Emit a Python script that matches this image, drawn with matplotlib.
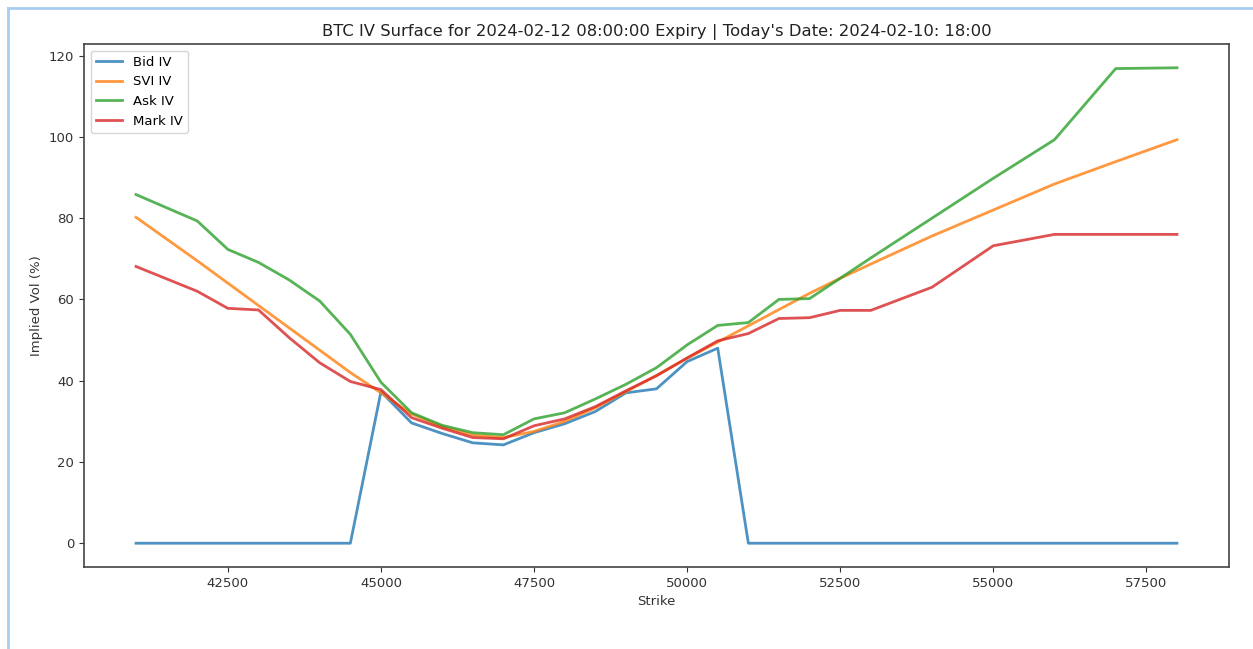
import matplotlib
matplotlib.use("Agg")
import matplotlib.pyplot as plt
from matplotlib.lines import Line2D

strikes = [41000, 42000, 42500, 43000, 43500, 44000, 44500, 45000, 45500, 46000,
           46500, 47000, 47500, 48000, 48500, 49000, 49500, 50000, 50500, 51000,
           51500, 52000, 52500, 53000, 54000, 55000, 56000, 57000, 58000]

bid_iv = [0, 0, 0, 0, 0, 0, 0, 37.3, 29.6, 27.0,
          24.7, 24.2, 27.2, 29.4, 32.4, 37.0, 38.0, 44.7, 48.0, 0,
          0, 0, 0, 0, 0, 0, 0, 0, 0]

svi_iv = [80.2, 69.5, 64.0, 58.5, 53.0, 47.5, 42.0, 37.0, 31.8, 28.7,
          26.6, 26.0, 27.5, 30.0, 33.3, 37.3, 41.3, 45.5, 49.5, 53.5,
          57.5, 61.5, 65.2, 68.7, 75.6, 82.0, 88.4, 93.9, 99.3]

ask_iv = [85.8, 79.3, 72.3, 69.1, 64.8, 59.6, 51.4, 39.6, 32.1, 29.0,
          27.2, 26.7, 30.6, 32.1, 35.5, 39.1, 43.2, 48.8, 53.6, 54.3,
          60.0, 60.2, 65.2, 70.2, 80.0, 89.8, 99.3, 116.8, 117.0]

mark_iv = [68.1, 62.0, 57.8, 57.4, 50.6, 44.4, 39.8, 37.8, 30.9, 28.3,
           26.0, 25.7, 28.9, 30.6, 33.6, 37.5, 41.2, 45.6, 49.8, 51.6,
           55.3, 55.5, 57.3, 57.3, 63.0, 73.2, 76.0, 76.0, 76.0]

fig = plt.figure(figsize=(12.53, 6.49), dpi=100)
ax = fig.add_axes([84/1253, 1 - 567/649, (1229 - 84)/1253, (567 - 44)/649])

lw = 2.0
ax.plot(strikes, bid_iv, color="#1f77b4", lw=lw, alpha=0.8, label="Bid IV")
ax.plot(strikes, svi_iv, color="#ff7f0e", lw=lw, alpha=0.8, label="SVI IV")
ax.plot(strikes, ask_iv, color="#2ca02c", lw=lw, alpha=0.8, label="Ask IV")
ax.plot(strikes, mark_iv, color="#d62728", lw=lw, alpha=0.8, label="Mark IV")

ax.set_xticks([42500, 45000, 47500, 50000, 52500, 55000, 57500])
ax.set_yticks([0, 20, 40, 60, 80, 100, 120])
ax.tick_params(labelsize=9.5, colors="#333333")
for s in ax.spines.values():
    s.set_color("#444444")
    s.set_linewidth(1.2)

ax.set_title("BTC IV Surface for 2024-02-12 08:00:00 Expiry | Today's Date: 2024-02-10: 18:00",
             fontsize=11.8, color="#222222")
ax.set_xlabel("Strike", fontsize=9.5, color="#333333")
ax.set_ylabel("Implied Vol (%)", fontsize=9.5, color="#333333")
ax.legend(loc="upper left", fontsize=9.5)

# screenshot frame
border = "#a9cdf0"
fig.add_artist(Line2D([8/1253, 1], [1 - 8/649, 1 - 8/649], color=border, lw=2, transform=fig.transFigure))
fig.add_artist(Line2D([8/1253, 8/1253], [0, 1 - 8/649], color=border, lw=2, transform=fig.transFigure))

fig.savefig("out.png", dpi=100)
